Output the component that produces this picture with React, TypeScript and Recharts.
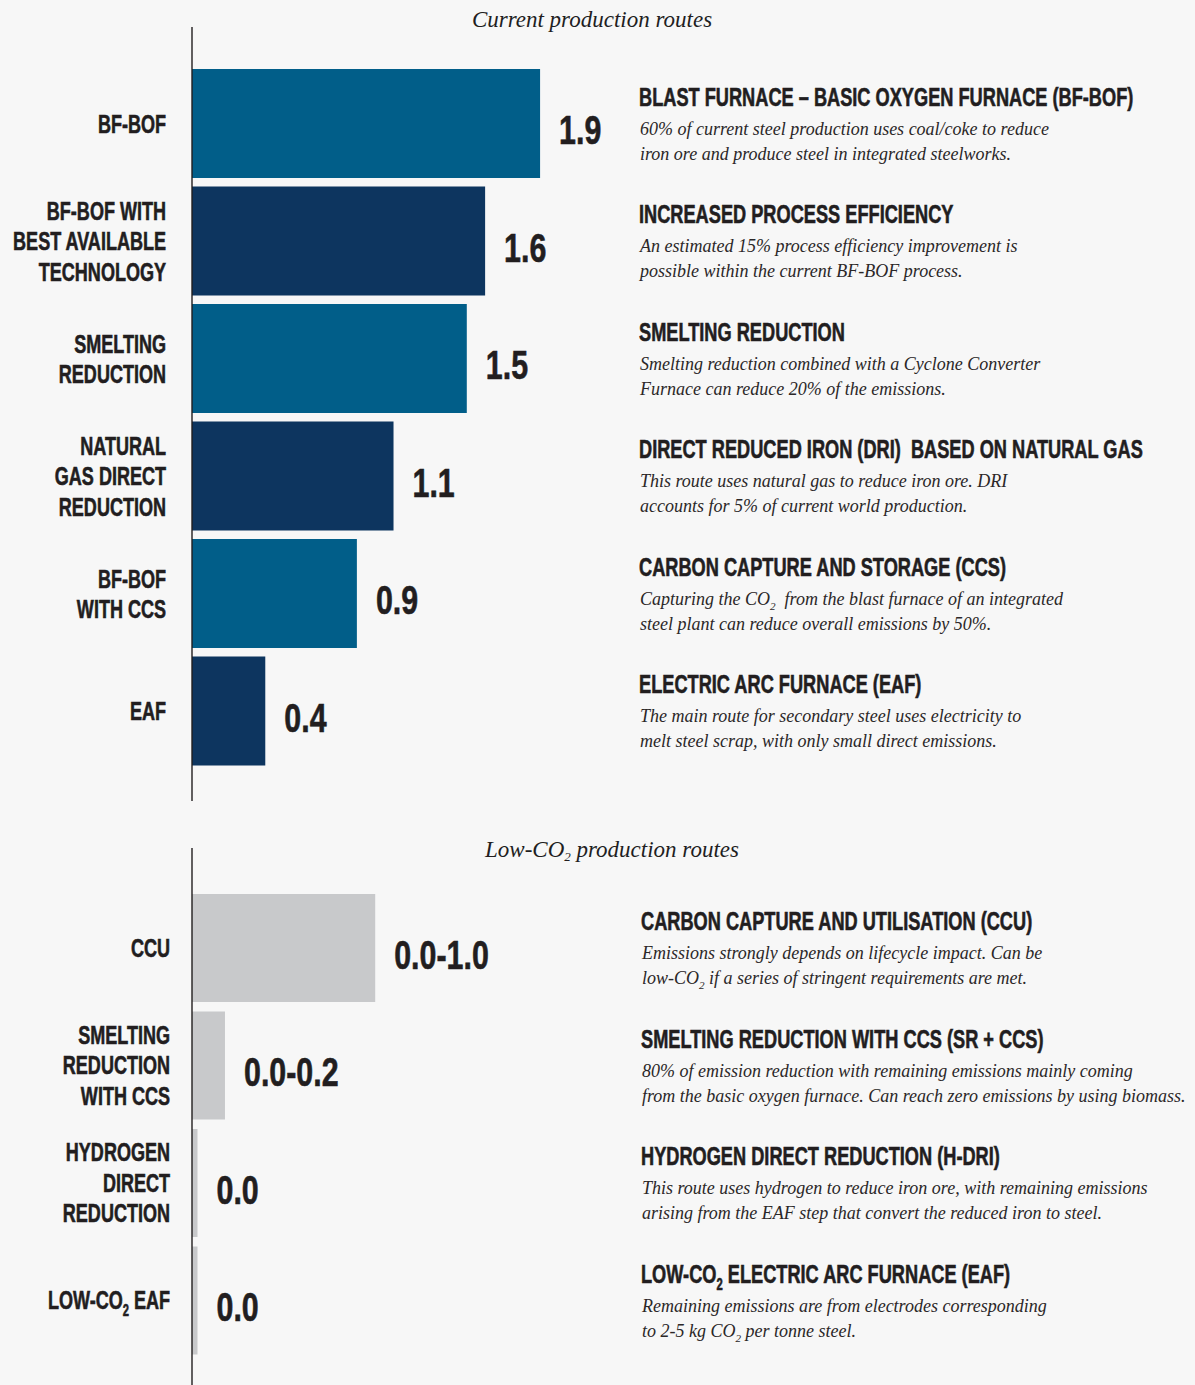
import React from "react";
import { BarChart, Bar, XAxis, YAxis, Cell, LabelList } from "recharts";

// current production routes (t CO2 per t steel)
const currentRoutes = [
  "BF-BOF",
  "BF-BOF WITH|BEST AVAILABLE|TECHNOLOGY",
  "SMELTING|REDUCTION",
  "NATURAL|GAS DIRECT|REDUCTION",
  "BF-BOF|WITH CCS",
  "EAF",
];
const currentValues = [1.9, 1.6, 1.5, 1.1, 0.9, 0.4];
const currentValueText = ["1.9", "1.6", "1.5", "1.1", "0.9", "0.4"];
const currentHeadings = [
  "BLAST FURNACE – BASIC OXYGEN FURNACE (BF-BOF)",
  "INCREASED PROCESS EFFICIENCY",
  "SMELTING REDUCTION",
  "DIRECT REDUCED IRON (DRI)  BASED ON NATURAL GAS",
  "CARBON CAPTURE AND STORAGE (CCS)",
  "ELECTRIC ARC FURNACE (EAF)",
];
const currentNotes = [
  ["60% of current steel production uses coal/coke to reduce", "iron ore and produce steel in integrated steelworks."],
  ["An estimated 15% process efficiency improvement is", "possible within the current BF-BOF process."],
  ["Smelting reduction combined with a Cyclone Converter", "Furnace can reduce 20% of the emissions."],
  ["This route uses natural gas to reduce iron ore. DRI", "accounts for 5% of current world production."],
  ["Capturing the CO_2  from the blast furnace of an integrated", "steel plant can reduce overall emissions by 50%."],
  ["The main route for secondary steel uses electricity to", "melt steel scrap, with only small direct emissions."],
];

// low-CO2 production routes
const lowRoutes = ["CCU", "SMELTING|REDUCTION|WITH CCS", "HYDROGEN|DIRECT|REDUCTION", "LOW-CO_2 EAF"];
const lowValues = [1.0, 0.18, 0.03, 0.03];
const lowValueText = ["0.0-1.0", "0.0-0.2", "0.0", "0.0"];
const lowHeadings = [
  "CARBON CAPTURE AND UTILISATION (CCU)",
  "SMELTING REDUCTION WITH CCS (SR + CCS)",
  "HYDROGEN DIRECT REDUCTION (H-DRI)",
  "LOW-CO_2 ELECTRIC ARC FURNACE (EAF)",
];
const lowNotes = [
  ["Emissions strongly depends on lifecycle impact. Can be", "low-CO_2 if a series of stringent requirements are met."],
  ["80% of emission reduction with remaining emissions mainly coming", "from the basic oxygen furnace. Can reach zero emissions by using biomass."],
  ["This route uses hydrogen to reduce iron ore, with remaining emissions", "arising from the EAF step that convert the reduced iron to steel."],
  ["Remaining emissions are from electrodes corresponding", "to 2-5 kg CO_2 per tonne steel."],
];

const INK = "#221e1f";
const TEAL = "#015e89";
const NAVY = "#0d355f";
const GREY = "#c8c9cb";
const SANS = "'Liberation Sans', Arial, sans-serif";
const SERIF = "'Liberation Serif', 'Times New Roman', serif";

// splits "CO_2" into CO + subscript 2
function rich(text: string, size: number) {
  const parts = text.split("_2");
  const out: React.ReactNode[] = [];
  parts.forEach((p, i) => {
    if (i > 0) {
      out.push(<tspan key={"s" + i} dy={size * 0.28} fontSize={size * 0.62}>2</tspan>);
      out.push(<tspan key={"t" + i} dy={-size * 0.28}>{p}</tspan>);
    } else {
      out.push(<tspan key={"t" + i}>{p}</tspan>);
    }
  });
  return out;
}

// heavy condensed caps, faked by squeezing a bold sans
function Squeezed({ x, y, size, squeeze, anchor, children }: any) {
  return (
    <text
      transform={`translate(${x},${y}) scale(${squeeze},1)`}
      textAnchor={anchor}
      fontFamily={SANS}
      fontWeight={700}
      fontSize={size}
      fill={INK}
      stroke={INK}
      strokeWidth={0.6}
      style={{ whiteSpace: "pre" }}
    >
      {children}
    </text>
  );
}

function CategoryTick(props: any) {
  const { y, payload, right } = props;
  const lines = String(payload.value).split("|");
  const lh = 30.5;
  const first = y - ((lines.length - 1) * lh) / 2 + 9;
  return (
    <g>
      {lines.map((l, i) => (
        <Squeezed key={i} x={right} y={first + i * lh} size={25.6} squeeze={0.705} anchor="end">
          {rich(l, 25.6)}
        </Squeezed>
      ))}
    </g>
  );
}

function makeValueLabel(texts: string[]) {
  return (props: any) => {
    const { x, y, width, height, value } = props;
    const i = Number(value);
    return (
      <Squeezed x={x + width + 19} y={y + height / 2 + 20.5} size={40} squeeze={0.76} anchor="start">
        {texts[i]}
      </Squeezed>
    );
  };
}

function makeNote(headings: string[], notes: string[][], noteX: number) {
  return (props: any) => {
    const { y, height, value } = props;
    const i = Number(value);
    const base = y + height / 2 - 18;
    return (
      <g>
        <Squeezed x={noteX} y={base} size={26} squeeze={0.7} anchor="start">
          {rich(headings[i], 26)}
        </Squeezed>
        {notes[i].map((line, k) => (
          <text
            key={k}
            x={noteX + 1}
            y={base + 29 + k * 25}
            fontFamily={SERIF}
            fontStyle="italic"
            fontSize={18}
            fill="#2b2728"
            style={{ whiteSpace: "pre" }}
          >
            {rich(line, 18)}
          </text>
        ))}
      </g>
    );
  };
}

function RoutePanel({ routes, values, texts, headings, notes, colors, height, padding, barSize, labelRight, noteX }: any) {
  const data = routes.map((name: string, i: number) => ({ name, value: values[i], idx: i }));
  return (
    <BarChart
      width={1195}
      height={height}
      data={data}
      layout="vertical"
      margin={{ top: 27, right: 87, bottom: 0, left: 8 }}
      barSize={barSize}
    >
      <XAxis type="number" domain={[0, 5]} hide />
      <YAxis
        type="category"
        dataKey="name"
        width={184}
        interval={0}
        tickLine={false}
        axisLine={{ stroke: INK, strokeWidth: 1.4 }}
        padding={padding}
        tick={(p: any) => <CategoryTick {...p} right={labelRight} />}
      />
      <Bar dataKey="value" isAnimationActive={false}>
        {data.map((d: any, i: number) => (
          <Cell key={i} fill={colors[i % colors.length]} />
        ))}
        <LabelList dataKey="idx" content={makeValueLabel(texts)} />
        <LabelList dataKey="idx" content={makeNote(headings, notes, noteX)} />
      </Bar>
    </BarChart>
  );
}

const titleStyle: React.CSSProperties = {
  position: "absolute",
  width: 400,
  textAlign: "center",
  fontFamily: SERIF,
  fontStyle: "italic",
  fontSize: 23,
  lineHeight: "23px",
  color: INK,
};

export default function App() {
  return (
    <div style={{ position: "absolute", left: 0, top: 0, width: 1195, height: 1385, background: "#f7f7f7", overflow: "hidden" }}>
      <div style={{ ...titleStyle, left: 392, top: 8 }}>Current production routes</div>
      <div style={{ position: "absolute", left: 0, top: 0 }}>
        <RoutePanel
          routes={currentRoutes}
          values={currentValues}
          texts={currentValueText}
          headings={currentHeadings}
          notes={currentNotes}
          colors={[TEAL, NAVY]}
          height={801}
          padding={{ top: 38, bottom: 31 }}
          barSize={109}
          labelRight={166}
          noteX={639}
        />
      </div>
      <div style={{ ...titleStyle, left: 412, top: 838 }}>
        Low-CO<sub style={{ fontSize: 13, verticalAlign: "-4px", lineHeight: 0 }}>2</sub> production routes
      </div>
      <div style={{ position: "absolute", left: 0, top: 821 }}>
        <RoutePanel
          routes={lowRoutes}
          values={lowValues}
          texts={lowValueText}
          headings={lowHeadings}
          notes={lowNotes}
          colors={[GREY]}
          height={564}
          padding={{ top: 41, bottom: 26 }}
          barSize={108}
          labelRight={170}
          noteX={641}
        />
      </div>
    </div>
  );
}
